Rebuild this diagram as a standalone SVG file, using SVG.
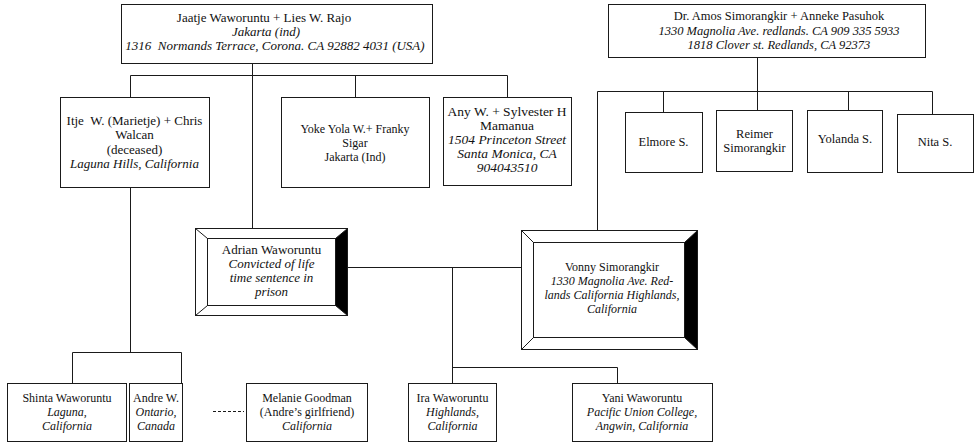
<svg xmlns="http://www.w3.org/2000/svg" width="976" height="442" viewBox="0 0 976 442">
<style>
  .box{fill:#fff;stroke:#1a1a1a;stroke-width:1}
  .bev{fill:#fff;stroke:#1a1a1a;stroke-width:1}
  .dark{fill:#000;stroke:#1a1a1a;stroke-width:1}
  .ln{fill:none;stroke:#1a1a1a;stroke-width:1}
  .dash{fill:none;stroke:#1a1a1a;stroke-width:1;stroke-dasharray:3,2}
  text{font-family:"Liberation Serif","Times New Roman",serif;font-size:12px;fill:#111;text-anchor:middle;white-space:pre}
  .i{font-style:italic}
  .f13{font-size:13px}
  .f125{font-size:12.5px}
  .f135{font-size:13.5px}
</style>
<rect width="976" height="442" fill="#fff"/>
<g id="connectors">
  <polyline class="ln" points="252.5,63 252.5,228"/>
  <polyline class="ln" points="130.5,97 130.5,75.5 507.5,75.5 507.5,97"/>
  <polyline class="ln" points="355.5,75.5 355.5,97"/>
  <polyline class="ln" points="757.5,57 757.5,110"/>
  <polyline class="ln" points="597.5,230 597.5,91.5 932.5,91.5 932.5,114"/>
  <polyline class="ln" points="663.5,91.5 663.5,112"/>
  <polyline class="ln" points="848.5,91.5 848.5,110"/>
  <polyline class="ln" points="347,267.5 521,267.5"/>
  <polyline class="ln" points="452.5,267.5 452.5,383"/>
  <polyline class="ln" points="452.5,367.5 617.5,367.5 617.5,383"/>
  <polyline class="ln" points="130.5,187 130.5,352.5"/>
  <polyline class="ln" points="72.5,383 72.5,352.5 181.5,352.5 181.5,383"/>
  <polyline class="dash" points="213,411.5 244,411.5"/>
</g>
<g id="jaatje">
  <rect class="box" x="121.5" y="4.5" width="311" height="59"/>
  <text class="f13" x="264" y="22">Jaatje Waworuntu + Lies W. Rajo</text>
  <text class="f13 i" x="266" y="36">Jakarta (ind)</text>
  <text class="f13 i" x="275" y="50">1316  Normands Terrace, Corona. CA 92882 4031 (USA)</text>
</g>
<g id="amos">
  <rect class="box" x="608.5" y="4.5" width="317" height="53"/>
  <text class="f125" x="779" y="20">Dr. Amos Simorangkir + Anneke Pasuhok</text>
  <text class="f125 i" x="779" y="34.5">1330 Magnolia Ave. redlands. CA 909 335 5933</text>
  <text class="f125 i" x="779" y="49">1818 Clover st. Redlands, CA 92373</text>
</g>
<g id="itje">
  <rect class="box" x="60.5" y="97.5" width="149" height="90"/>
  <text class="f13" x="134.5" y="125">Itje  W. (Marietje) + Chris</text>
  <text class="f13" x="134.5" y="139">Walcan</text>
  <text class="f13" x="134.5" y="153.5">(deceased)</text>
  <text class="f13 i" x="134.5" y="168">Laguna Hills, California</text>
</g>
<g id="yoke">
  <rect class="box" x="281.5" y="97.5" width="148" height="90"/>
  <text x="355" y="133">Yoke Yola W.+ Franky</text>
  <text x="355" y="147">Sigar</text>
  <text x="355" y="160.5">Jakarta (Ind)</text>
</g>
<g id="any">
  <rect class="box" x="443.5" y="97.5" width="128" height="88"/>
  <text class="f135" x="507" y="116">Any W. + Sylvester H</text>
  <text class="f135" x="507" y="130">Mamanua</text>
  <text class="f135 i" x="507" y="144">1504 Princeton Street</text>
  <text class="f135 i" x="507" y="158">Santa Monica, CA</text>
  <text class="f135 i" x="507" y="172">904043510</text>
</g>
<g id="elmore">
  <rect class="box" x="625.5" y="112.5" width="77" height="60"/>
  <text class="f125" x="663.5" y="146">Elmore S.</text>
</g>
<g id="reimer">
  <rect class="box" x="716.5" y="110.5" width="76" height="61"/>
  <text class="f125" x="754.5" y="138">Reimer</text>
  <text class="f125" x="754.5" y="152">Simorangkir</text>
</g>
<g id="yolanda">
  <rect class="box" x="807.5" y="110.5" width="75" height="62"/>
  <text class="f125" x="845" y="143">Yolanda S.</text>
</g>
<g id="nita">
  <rect class="box" x="897.5" y="114.5" width="76" height="58"/>
  <text class="f125" x="935" y="146">Nita S.</text>
</g>
<g id="adrian">
  <rect class="bev" x="195.5" y="228.5" width="152" height="87"/>
  <polygon class="dark" points="347.5,228.5 335.5,238.5 335.5,305.5 347.5,315.5"/>
  <rect class="bev" x="207.5" y="238.5" width="128" height="67"/>
  <line class="ln" x1="195.5" y1="228.5" x2="207.5" y2="238.5"/>
  <line class="ln" x1="195.5" y1="315.5" x2="207.5" y2="305.5"/>
  <text class="f13" x="271.5" y="254">Adrian Waworuntu</text>
  <text class="f13 i" x="271.5" y="268">Convicted of life</text>
  <text class="f13 i" x="271.5" y="282">time sentence in</text>
  <text class="f13 i" x="271.5" y="296">prison</text>
</g>
<g id="vonny">
  <rect class="bev" x="521.5" y="230.5" width="176" height="119"/>
  <polygon class="dark" points="697.5,230.5 684.5,242.5 684.5,337.5 697.5,349.5"/>
  <rect class="bev" x="533.5" y="242.5" width="151" height="95"/>
  <line class="ln" x1="521.5" y1="230.5" x2="533.5" y2="242.5"/>
  <line class="ln" x1="521.5" y1="349.5" x2="533.5" y2="337.5"/>
  <text x="612" y="271">Vonny Simorangkir</text>
  <text class="i" x="612" y="285">1330 Magnolia Ave. Red-</text>
  <text class="i" x="612" y="299">lands California Highlands,</text>
  <text class="i" x="612" y="313">California</text>
</g>
<g id="shinta">
  <rect class="box" x="7.5" y="383.5" width="119" height="58"/>
  <text x="67" y="402">Shinta Waworuntu</text>
  <text class="i" x="67" y="416">Laguna,</text>
  <text class="i" x="67" y="430">California</text>
</g>
<g id="andre">
  <rect class="box" x="129.5" y="383.5" width="53" height="58"/>
  <text x="156" y="402">Andre W.</text>
  <text class="i" x="156" y="416">Ontario,</text>
  <text class="i" x="156" y="430">Canada</text>
</g>
<g id="melanie">
  <rect class="box" x="246.5" y="383.5" width="121" height="58"/>
  <text x="307" y="402">Melanie Goodman</text>
  <text x="307" y="416">(Andre’s girlfriend)</text>
  <text class="i" x="307" y="430">California</text>
</g>
<g id="ira">
  <rect class="box" x="408.5" y="383.5" width="88" height="58"/>
  <text x="452.5" y="402">Ira Waworuntu</text>
  <text class="i" x="452.5" y="416">Highlands,</text>
  <text class="i" x="452.5" y="430">California</text>
</g>
<g id="yani">
  <rect class="box" x="572.5" y="383.5" width="140" height="58"/>
  <text x="642" y="402">Yani Waworuntu</text>
  <text class="i" x="642" y="416">Pacific Union College,</text>
  <text class="i" x="642" y="430">Angwin, California</text>
</g>
</svg>
